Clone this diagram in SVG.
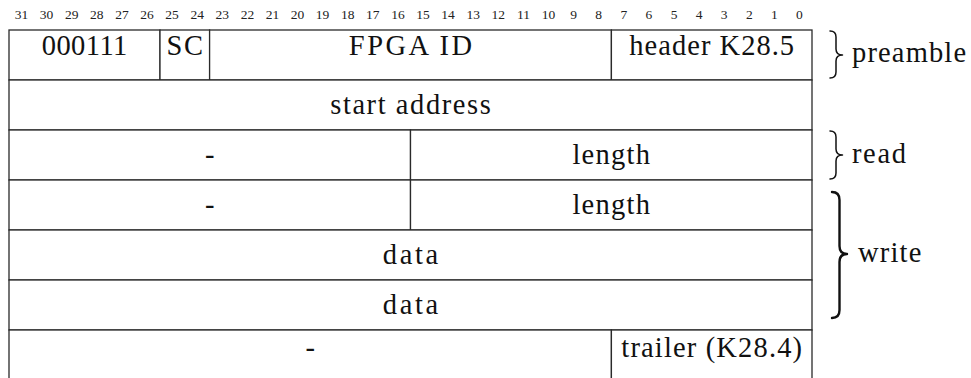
<svg xmlns="http://www.w3.org/2000/svg" width="971" height="378" viewBox="0 0 971 378" font-family="'Liberation Serif', 'Times New Roman', 'DejaVu Serif', 'Noto Serif', serif">
  <style>
    .cell{fill:#fff;stroke:#2a2a2a;stroke-width:1.3}
    .t{font-family:'Liberation Serif','Times New Roman','DejaVu Serif',serif;font-size:28.5px;fill:#111;text-anchor:middle}
    .bit{font-family:'Liberation Serif','Times New Roman','DejaVu Serif',serif;font-size:13.5px;fill:#222;text-anchor:middle}
    .lbl{font-family:'Liberation Serif','Times New Roman','DejaVu Serif',serif;font-size:28.5px;fill:#111}
    .brace{fill:none;stroke:#111;stroke-width:1.5;stroke-linecap:round;stroke-linejoin:round}
    .brace.big{stroke-width:2.4}
  </style>
  <rect width="971" height="378" fill="#fff"/>

  <!-- bit numbers, one per 32nd of the word width -->
  <g id="bit-header">
    <text class="bit" x="21.5" y="19">31</text>
    <text class="bit" x="46.6" y="19">30</text>
    <text class="bit" x="71.7" y="19">29</text>
    <text class="bit" x="96.8" y="19">28</text>
    <text class="bit" x="121.9" y="19">27</text>
    <text class="bit" x="147.0" y="19">26</text>
    <text class="bit" x="172.1" y="19">25</text>
    <text class="bit" x="197.2" y="19">24</text>
    <text class="bit" x="222.3" y="19">23</text>
    <text class="bit" x="247.4" y="19">22</text>
    <text class="bit" x="272.5" y="19">21</text>
    <text class="bit" x="297.6" y="19">20</text>
    <text class="bit" x="322.6" y="19">19</text>
    <text class="bit" x="347.7" y="19">18</text>
    <text class="bit" x="372.8" y="19">17</text>
    <text class="bit" x="397.9" y="19">16</text>
    <text class="bit" x="423.0" y="19">15</text>
    <text class="bit" x="448.1" y="19">14</text>
    <text class="bit" x="473.2" y="19">13</text>
    <text class="bit" x="498.3" y="19">12</text>
    <text class="bit" x="523.4" y="19">11</text>
    <text class="bit" x="548.5" y="19">10</text>
    <text class="bit" x="573.6" y="19">9</text>
    <text class="bit" x="598.7" y="19">8</text>
    <text class="bit" x="623.8" y="19">7</text>
    <text class="bit" x="648.9" y="19">6</text>
    <text class="bit" x="674.0" y="19">5</text>
    <text class="bit" x="699.1" y="19">4</text>
    <text class="bit" x="724.2" y="19">3</text>
    <text class="bit" x="749.3" y="19">2</text>
    <text class="bit" x="774.4" y="19">1</text>
    <text class="bit" x="799.4" y="19">0</text>
  </g>

  <!-- word 0: preamble -->
  <g id="f-sync">
    <rect class="cell" x="9" y="30" width="151" height="50"/>
    <text class="t" x="84.5" y="55" textLength="85.5">000111</text>
  </g>
  <g id="f-sc">
    <rect class="cell" x="160" y="30" width="49.6" height="50"/>
    <text class="t" x="184.8" y="55" textLength="36.4">SC</text>
  </g>
  <g id="f-fpga-id">
    <rect class="cell" x="209.6" y="30" width="401.8" height="50"/>
    <text class="t" x="410.5" y="55" textLength="123.3">FPGA ID</text>
  </g>
  <g id="f-header">
    <rect class="cell" x="611.4" y="30" width="200.6" height="50"/>
    <text class="t" x="711.7" y="55" textLength="164.8">header K28.5</text>
  </g>

  <!-- word 1 -->
  <g id="f-start-address">
    <rect class="cell" x="9" y="80" width="803" height="50"/>
    <text class="t" x="410.5" y="114" textLength="160.5">start address</text>
  </g>

  <!-- word 2: read -->
  <g id="f-read-pad">
    <rect class="cell" x="9" y="130" width="401.5" height="50"/>
    <text class="t" x="209.7" y="164">-</text>
  </g>
  <g id="f-read-length">
    <rect class="cell" x="410.5" y="130" width="401.5" height="50"/>
    <text class="t" x="611.2" y="164" textLength="77.6">length</text>
  </g>

  <!-- words 3-5: write -->
  <g id="f-write-pad">
    <rect class="cell" x="9" y="180" width="401.5" height="50"/>
    <text class="t" x="209.7" y="214">-</text>
  </g>
  <g id="f-write-length">
    <rect class="cell" x="410.5" y="180" width="401.5" height="50"/>
    <text class="t" x="611.2" y="214" textLength="77.6">length</text>
  </g>
  <g id="f-data-1">
    <rect class="cell" x="9" y="230" width="803" height="50"/>
    <text class="t" x="410.5" y="264" textLength="55.4">data</text>
  </g>
  <g id="f-data-2">
    <rect class="cell" x="9" y="280" width="803" height="50"/>
    <text class="t" x="410.5" y="314" textLength="55.4">data</text>
  </g>

  <!-- last word: trailer (bottom edge runs past the frame) -->
  <g id="f-trailer-pad">
    <rect class="cell" x="9" y="330" width="602.4" height="60"/>
    <text class="t" x="310.2" y="357">-</text>
  </g>
  <g id="f-trailer">
    <rect class="cell" x="611.4" y="330" width="200.6" height="60"/>
    <text class="t" x="711.7" y="357" textLength="180.7">trailer (K28.4)</text>
  </g>

  <!-- group braces on the right -->
  <g id="connectors">
    <path class="brace" d="M830,31 Q836,31 836,37 L836,49 Q836,55 842.5,55 Q836,55 836,61 L836,72 Q836,78 830,78"/>
    <path class="brace" d="M830,131 Q836,131 836,137 L836,149 Q836,155 842.5,155 Q836,155 836,161 L836,173 Q836,179 830,179"/>
    <path class="brace big" d="M832,192 Q839.5,192 839.5,200 L839.5,246 Q839.5,254 847,254 Q839.5,254 839.5,262 L839.5,310 Q839.5,318 832,318"/>
  </g>
  <g id="group-labels">
    <text class="lbl" x="852" y="62" textLength="114.1">preamble</text>
    <text class="lbl" x="852" y="163" textLength="53.9">read</text>
    <text class="lbl" x="858" y="262" textLength="63.4">write</text>
  </g>
</svg>
